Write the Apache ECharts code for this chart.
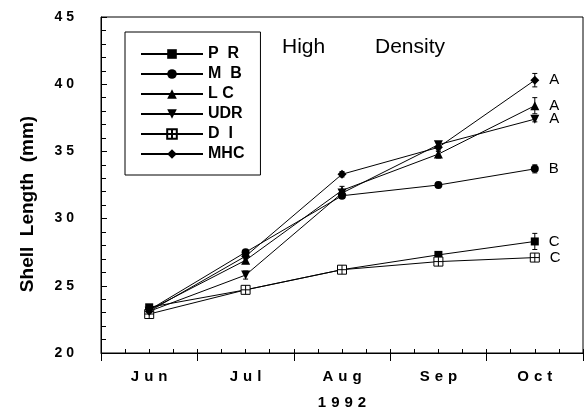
<!DOCTYPE html>
<html>
<head>
<meta charset="utf-8">
<script src="https://cdn.jsdelivr.net/npm/echarts@6/dist/echarts.min.js"></script>
<style>
html,body{margin:0;padding:0;background:#fff;}
#chart{width:584px;height:415px;}
</style>
</head>
<body>
<div id="chart"></div>
<script>
const categories = ['Jun', 'Jul', 'Aug', 'Sep', 'Oct'];
const yearLabel = '1992';
const seriesNames = ['P  R', 'M  B', 'L C', 'UDR', 'D  I', 'MHC'];
const prValues  = [23.4, 24.7, 26.2, 27.3, 28.3];
const mbValues  = [23.2, 27.5, 31.7, 32.5, 33.7];
const lcValues  = [23.2, 26.9, 32.1, 34.8, 38.4];
const udrValues = [23.1, 25.8, 31.9, 35.5, 37.4];
const diValues  = [22.9, 24.7, 26.2, 26.8, 27.1];
const mhcValues = [23.1, 27.2, 33.3, 35.3, 40.3];
const prErrors  = [0.15, 0.2, 0.2, 0.2, 0.6];
const mbErrors  = [0.15, 0.2, 0.2, 0.2, 0.3];
const lcErrors  = [0.15, 0.25, 0.3, 0.3, 0.6];
const udrErrors = [0.15, 0.3, 0.2, 0.2, 0.2];
const diErrors  = [0.15, 0.2, 0.2, 0.2, 0.15];
const mhcErrors = [0.15, 0.2, 0.2, 0.3, 0.5];
const sigLetters = ['C', 'B', 'A', 'A', 'C', 'A'];
const yTickValues = [20, 25, 30, 35, 40, 45];
const titleWords = ['High', 'Density'];
const yAxisTitle = 'Shell  Length  (mm)';

const allValues = [prValues, mbValues, lcValues, udrValues, diValues, mhcValues];
const allErrors = [prErrors, mbErrors, lcErrors, udrErrors, diErrors, mhcErrors];
const symbols = ['rect', 'circle', 'triangle', 'triangle',
  'path://M0,0H10V10H0Z M5,0V10 M0,5H10', 'diamond'];
const symbolSizes = [8, 8, 9, 9, 9, 9];
const symbolRotates = [0, 0, 0, 180, 0, 0];

const FONT = '"Liberation Sans", Arial, sans-serif';
const chart = echarts.init(document.getElementById('chart'));

const series = [];
allValues.forEach((vals, si) => {
  const errs = allErrors[si];
  series.push({
    name: 'err' + si,
    type: 'custom',
    xAxisIndex: 0,
    yAxisIndex: 0,
    z: 3,
    silent: true,
    data: vals.map((v, i) => [i, v - errs[i], v + errs[i]]),
    renderItem: function (params, api) {
      const lo = api.coord([api.value(0), api.value(1)]);
      const hi = api.coord([api.value(0), api.value(2)]);
      const c = 2.5;
      const st = { stroke: '#000', lineWidth: 1 };
      return {
        type: 'group',
        children: [
          { type: 'line', shape: { x1: lo[0], y1: lo[1], x2: hi[0], y2: hi[1] }, style: st },
          { type: 'line', shape: { x1: lo[0] - c, y1: lo[1], x2: lo[0] + c, y2: lo[1] }, style: st },
          { type: 'line', shape: { x1: hi[0] - c, y1: hi[1], x2: hi[0] + c, y2: hi[1] }, style: st }
        ]
      };
    }
  });
  const isDI = si === 4;
  series.push({
    name: seriesNames[si],
    type: 'line',
    xAxisIndex: 0,
    yAxisIndex: 0,
    z: 4,
    symbol: symbols[si],
    symbolSize: symbolSizes[si],
    symbolRotate: symbolRotates[si],
    showAllSymbol: true,
    lineStyle: { color: '#000', width: 1 },
    itemStyle: isDI ? { color: '#fff', borderColor: '#000', borderWidth: 1 } : { color: '#000' },
    emphasis: { disabled: true },
    data: vals.map((v, i) => i === vals.length - 1 ? {
      value: v,
      label: {
        show: true, position: 'right', distance: 10,
        formatter: sigLetters[si],
        color: '#000', fontSize: 15, fontFamily: FONT
      }
    } : v)
  });
});

chart.setOption({
  animation: false,
  backgroundColor: '#fff',
  title: [
    { text: titleWords[0], left: 282, top: 37, padding: 0,
      textStyle: { fontSize: 21, fontWeight: 'normal', color: '#000', fontFamily: FONT } },
    { text: titleWords[1], left: 375, top: 37, padding: 0,
      textStyle: { fontSize: 21, fontWeight: 'normal', color: '#000', fontFamily: FONT } }
  ],
  grid: { left: 101, right: 1, top: 17, bottom: 58, show: true,
    borderColor: '#000', borderWidth: 1, backgroundColor: 'transparent' },
  legend: {
    data: seriesNames,
    orient: 'vertical',
    left: 125, top: 32,
    padding: [14, 16, 13, 15],
    itemWidth: 62, itemHeight: 12, itemGap: 4,
    borderColor: '#000', borderWidth: 1,
    textStyle: { fontSize: 16, fontWeight: 'bold', color: '#000', fontFamily: FONT, lineHeight: 14 },
    selectedMode: false
  },
  xAxis: [
    {
      type: 'category', data: categories, boundaryGap: true,
      axisLine: { lineStyle: { color: '#000', width: 1 } },
      axisTick: { show: true, inside: false, length: 8, lineStyle: { color: '#000' } },
      axisLabel: { color: '#000', fontSize: 15, fontWeight: 'bold', fontFamily: FONT, margin: 16,
        formatter: v => v.split('').join('\u2004') },
      name: yearLabel.split('').join('\u2004'),
      nameLocation: 'middle', nameGap: 42,
      nameTextStyle: { color: '#000', fontSize: 15, fontWeight: 'bold', fontFamily: FONT },
      splitLine: { show: false }
    },
    {
      type: 'value', min: 0, max: categories.length * 4, interval: 1,
      position: 'bottom',
      axisLine: { show: false },
      axisTick: { show: true, inside: true, length: 4, lineStyle: { color: '#000' } },
      axisLabel: { show: false },
      splitLine: { show: false }
    }
  ],
  yAxis: {
    type: 'value', min: yTickValues[0], max: yTickValues[yTickValues.length - 1], interval: 5,
    axisLine: { show: true, lineStyle: { color: '#000', width: 1 } },
    axisTick: { show: true, inside: true, length: 6, lineStyle: { color: '#000' } },
    minorTick: { show: true, splitNumber: 5, length: 5, lineStyle: { color: '#000' } },
    axisLabel: { color: '#000', fontSize: 14, fontWeight: 'bold', fontFamily: FONT, margin: 27,
      formatter: v => String(v).split('').join(' ') },
    splitLine: { show: false }
  },
  graphic: [{
    type: 'text', x: 28, y: 204, rotation: Math.PI / 2,
    style: { text: yAxisTitle, fill: '#000', font: 'bold 19px "Liberation Sans", Arial, sans-serif',
      textAlign: 'center', textVerticalAlign: 'middle' }
  }],
  series: series
});
</script>
</body>
</html>
